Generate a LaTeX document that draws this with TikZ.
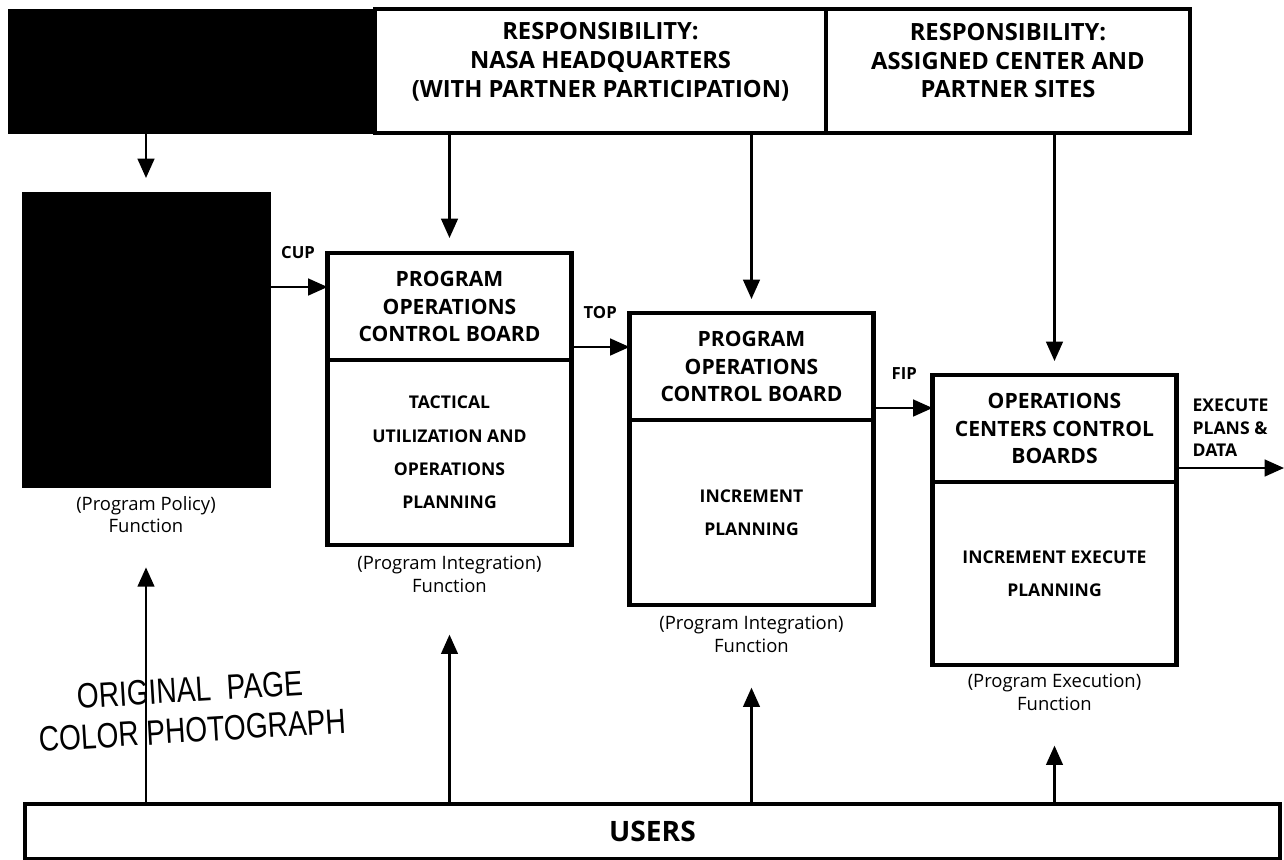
\documentclass[tikz,border=0pt]{standalone}
\usepackage{fontspec}
\setmainfont{Open Sans}
\newfontfamily\stampfont{Liberation Sans}
\usetikzlibrary{arrows.meta,positioning,calc}
\tikzset{
respbox/.style={rectangle,draw,line width=2.3pt,fill=white,align=center,inner sep=2pt,outer sep=0pt,minimum height=2.48cm,text depth=12pt,font=\bfseries\fontsize{13.5}{16.4}\selectfont},
policyblk/.style={rectangle,fill=black,draw=black,inner sep=0pt,outer sep=0pt},
boardtop/.style={rectangle,draw,line width=2.3pt,fill=white,align=center,inner sep=2pt,outer sep=0pt,minimum width=4.88cm,minimum height=2.14cm,font=\bfseries\fontsize{12}{15.6}\selectfont},
boardlow/.style={boardtop,minimum height=3.70cm,font=\bfseries\fontsize{10}{19}\selectfont},
fnlabel/.style={align=center,inner sep=0pt,font=\fontsize{10.5}{13}\selectfont},
flowtag/.style={inner sep=0pt,font=\bfseries\fontsize{9.5}{12.8}\selectfont},
flow/.style={-{Triangle[length=11pt,width=9.5pt]},line width=1.3pt},
usersbox/.style={rectangle,draw,line width=2.3pt,fill=white,align=center,outer sep=0pt,minimum width=25.10cm,minimum height=1.10cm,font=\bfseries\fontsize{16}{19}\selectfont},
stamp/.style={align=center,rotate=3.5,inner sep=0pt,font=\stampfont\fontsize{16}{23}\selectfont}
}

\begin{document}
\begin{tikzpicture}[
x=1cm,
y=1cm
]
\useasboundingbox (0,0) rectangle (25.68,-17.2);
% responsibility strip
\node[policyblk,minimum width=7.34cm,minimum height=2.48cm]
  (polbar) at (3.83,-1.42) {};
\node[respbox,minimum width=9.02cm,text depth=13pt]
  (hqresp) at (12.01,-1.42) {RESPONSIBILITY:\\NASA HEADQUARTERS\\(WITH PARTNER PARTICIPATION)};
\node[respbox,minimum width=7.28cm]
  (ctrresp) at (20.16,-1.42) {RESPONSIBILITY:\\ASSIGNED CENTER AND\\PARTNER SITES};
% functions
\node[policyblk,minimum width=4.96cm,minimum height=5.90cm]
  (polbox) at (2.92,-6.79) {};
\node[fnlabel] (polfn) at (2.92,-10.29) {(Program Policy)\\Function};
\node[boardtop] (pocbone) at (8.99,-6.13) {PROGRAM\\OPERATIONS\\CONTROL BOARD};
\node[boardlow] (pocbonelow) at (8.99,-9.05) {TACTICAL\\UTILIZATION AND\\OPERATIONS\\PLANNING};
\node[fnlabel] (pocbonefn) at (8.99,-11.48) {(Program Integration)\\Function};
\node[boardtop] (pocbtwo) at (15.03,-7.33) {PROGRAM\\OPERATIONS\\CONTROL BOARD};
\node[boardlow] (pocbtwolow) at (15.03,-10.25) {INCREMENT\\PLANNING};
\node[fnlabel] (pocbtwofn) at (15.03,-12.68) {(Program Integration)\\Function};
\node[boardtop] (occb) at (21.09,-8.57) {OPERATIONS\\CENTERS CONTROL\\BOARDS};
\node[boardlow,minimum height=3.66cm] (occblow) at (21.09,-11.47) {INCREMENT EXECUTE\\PLANNING};
\node[fnlabel] (occbfn) at (21.09,-13.84) {(Program Execution)\\Function};
\node[usersbox] (users) at (13.05,-16.63) {USERS};
\node[stamp] (photostamp) at (3.82,-14.2)
  {\scalebox{1}[1.25]{ORIGINAL\ \ PAGE}\\\scalebox{1}[1.25]{COLOR PHOTOGRAPH}};
\coordinate (cupin) at ($(pocbone.north west)+(0,-0.68)$);
\coordinate (topin) at ($(pocbtwo.north west)+(0,-0.68)$);
\coordinate (fipin) at ($(occb.north west)+(0,-0.66)$);
\coordinate (execout) at (25.68,-9.36);
% down from responsibility
\draw[flow,shorten >=0.28cm] (polbox.north |- polbar.south) -- (polbox.north);
\draw[flow,shorten >=0.3cm] (pocbone.north |- hqresp.south) -- (pocbone.north);
\draw[flow,shorten >=0.28cm] (pocbtwo.north |- hqresp.south) -- (pocbtwo.north);
\draw[flow,shorten >=0.28cm] (occb.north |- ctrresp.south) -- (occb.north);
% plan flow
\draw[flow] (polbox.east |- cupin) -- node[flowtag,pos=0,anchor=base west,xshift=0.2cm,yshift=0.58cm]{CUP} (cupin);
\draw[flow] (pocbone.east |- topin) -- node[flowtag,pos=0,anchor=base west,xshift=0.22cm,yshift=0.58cm]{TOP} (topin);
\draw[flow] (pocbtwo.east |- fipin) -- node[flowtag,pos=0,anchor=base west,xshift=0.34cm,yshift=0.58cm]{FIP} (fipin);
\draw[flow] (occb.east |- execout) -- node[flowtag,pos=0,anchor=south west,align=left,xshift=0.3cm,yshift=0.2cm,font=\bfseries\fontsize{10}{12.8}\selectfont]{EXECUTE\\PLANS \&\\DATA} (execout);
% up from users
\draw[flow,shorten >=0.68cm] (polfn.south |- users.north) -- (polfn.south);
\draw[flow,shorten >=0.84cm] (pocbonefn.south |- users.north) -- (pocbonefn.south);
\draw[flow,shorten >=0.7cm] (pocbtwofn.south |- users.north) -- (pocbtwofn.south);
\draw[flow,shorten >=0.7cm] (occbfn.south |- users.north) -- (occbfn.south);
\end{tikzpicture}
\end{document}
